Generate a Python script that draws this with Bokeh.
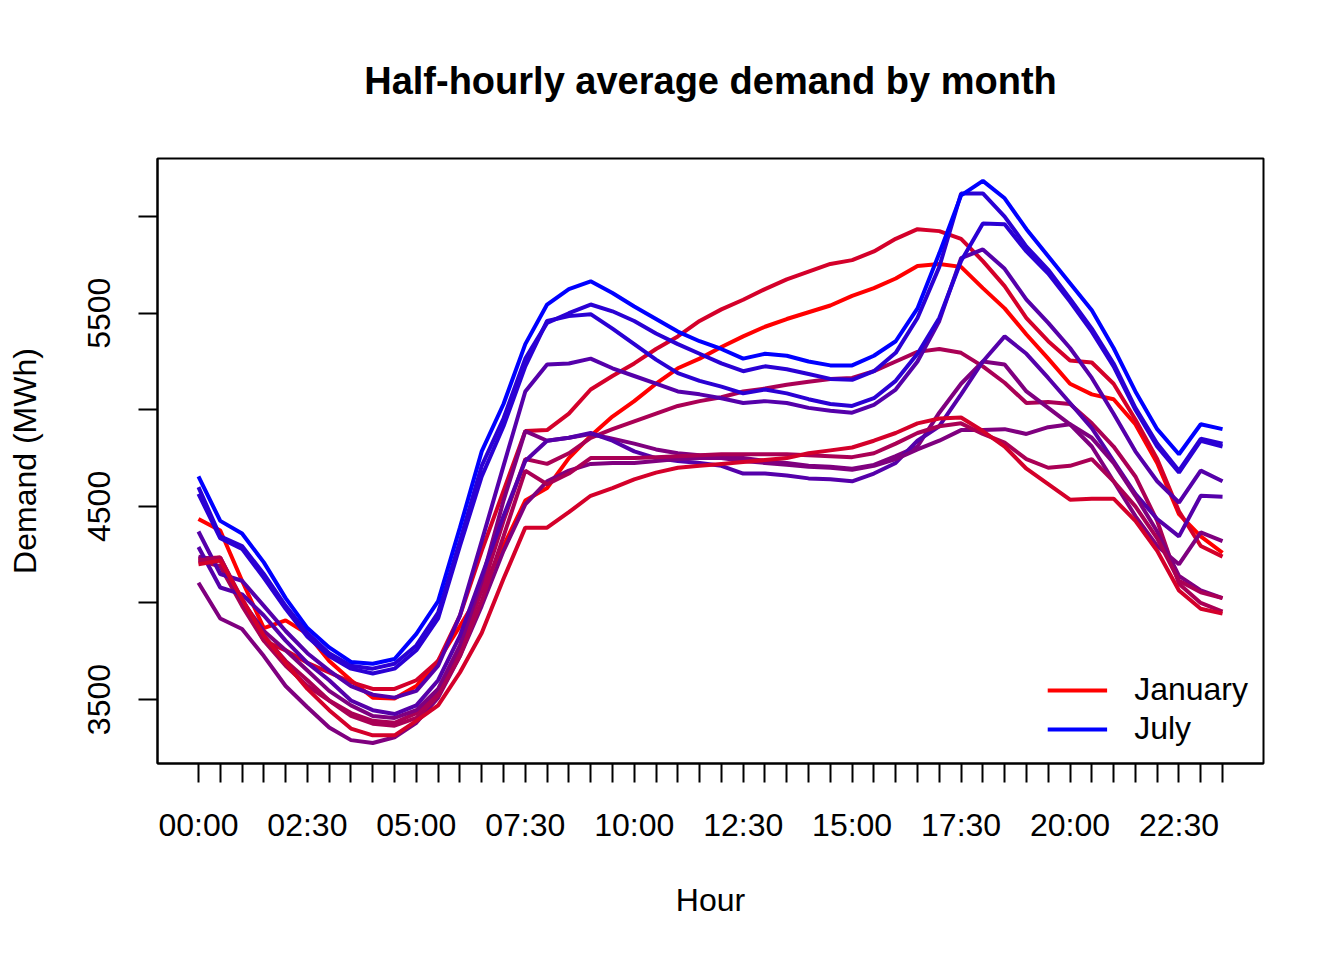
from bokeh.plotting import figure
from bokeh.models import Range1d, FixedTicker, Legend, LegendItem
from bokeh.embed import file_html
from bokeh.resources import INLINE

# Half-hour slots (48) and the labels that are shown
slots = list(range(48))
slot_names = ["%02d:%02d" % (h, m) for h in range(24) for m in (0, 30)]
shown_labels = ["00:00", "02:30", "05:00", "07:30", "10:00", "12:30",
                "15:00", "17:30", "20:00", "22:30"]
y_ticks = [3500, 4000, 4500, 5000, 5500, 6000]
y_labels = ["3500", "", "4500", "", "5500", ""]

months = ["January", "February", "March", "April", "May", "June",
          "July", "August", "September", "October", "November", "December"]

jan = [4435,4375,4115,3870,3910,3840,3700,3600,3510,3505,3570,3700,3880,4065,4295,4530,4595,4750,4865,4965,5045,5135,5215,5265,5325,5380,5430,5470,5505,5540,5590,5630,5680,5745,5755,5740,5630,5525,5390,5265,5135,5080,5055,4925,4725,4460,4345,4260]
feb = [4230,4235,4010,3805,3755,3690,3640,3590,3555,3555,3600,3700,3935,4270,4580,4890,4895,4980,5105,5175,5240,5315,5380,5460,5520,5570,5625,5675,5715,5755,5775,5820,5885,5935,5925,5885,5770,5640,5475,5355,5255,5245,5135,4950,4745,4475,4295,4240]
mar = [4220,4190,3985,3805,3675,3570,3495,3430,3390,3380,3430,3545,3755,4065,4425,4745,4720,4775,4855,4900,4940,4980,5020,5045,5065,5095,5110,5130,5145,5160,5165,5200,5250,5300,5315,5295,5225,5140,5035,5040,5030,4930,4810,4655,4425,4100,4000,3955]
apr = [4240,4220,4010,3855,3755,3650,3545,3470,3415,3405,3445,3555,3780,4115,4530,4890,4840,4855,4875,4850,4825,4795,4775,4765,4760,4750,4735,4725,4710,4705,4695,4715,4760,4810,4985,5135,5250,5235,5095,5010,4925,4810,4630,4450,4295,4200,4365,4320]
may = [4370,4150,4115,3985,3855,3740,3650,3570,3525,3510,3545,3675,3935,4320,4710,5095,5235,5240,5265,5215,5175,5135,5095,5080,5060,5035,5045,5035,5010,4995,4985,5025,5105,5250,5460,5785,5830,5730,5570,5450,5320,5165,4980,4785,4630,4520,4685,4630]
jun = [4600,4345,4295,4150,3985,3845,3740,3675,3660,3685,3780,3950,4320,4710,4955,5265,5450,5500,5545,5510,5460,5395,5340,5290,5240,5200,5225,5210,5185,5160,5155,5200,5295,5475,5740,6120,6120,6000,5845,5725,5575,5420,5240,5010,4825,4685,4850,4825]
jul = [4655,4425,4360,4210,4025,3870,3770,3695,3685,3710,3840,4010,4390,4785,5030,5340,5545,5625,5665,5605,5535,5470,5405,5355,5315,5265,5290,5280,5250,5230,5230,5280,5355,5525,5810,6110,6185,6095,5935,5795,5655,5515,5320,5095,4900,4770,4925,4900]
aug = [4565,4335,4280,4130,3970,3825,3725,3660,3635,3660,3755,3920,4295,4655,4915,5225,5460,5485,5495,5420,5340,5260,5190,5150,5120,5085,5105,5085,5055,5030,5020,5060,5150,5290,5475,5770,5965,5960,5820,5705,5560,5405,5225,5000,4810,4675,4840,4810]
sep = [4290,4080,4045,3935,3805,3690,3600,3495,3445,3425,3470,3600,3830,4140,4450,4735,4840,4855,4880,4840,4785,4750,4735,4725,4710,4670,4670,4660,4645,4640,4630,4670,4725,4840,4915,5080,5250,5380,5290,5165,5035,4905,4735,4565,4435,4345,4555,4550]
oct_ = [4105,3920,3865,3725,3570,3460,3355,3290,3275,3305,3380,3510,3725,3985,4270,4510,4630,4685,4720,4725,4725,4735,4745,4750,4750,4735,4725,4715,4705,4700,4690,4710,4745,4795,4840,4895,4895,4900,4875,4910,4925,4855,4725,4555,4370,4140,4065,4025]
nov = [4220,4235,4020,3830,3700,3600,3495,3415,3375,3365,3405,3520,3725,4010,4345,4685,4615,4670,4750,4750,4750,4755,4760,4765,4770,4770,4770,4770,4765,4760,4755,4775,4825,4880,4915,4930,4875,4830,4745,4700,4710,4745,4630,4500,4335,4115,4055,4025]
dec = [4200,4220,4020,3830,3690,3555,3445,3350,3315,3315,3390,3470,3640,3845,4125,4390,4390,4470,4555,4595,4640,4675,4700,4710,4720,4730,4740,4750,4775,4790,4805,4840,4880,4930,4955,4960,4890,4810,4695,4615,4535,4540,4540,4425,4270,4065,3970,3945]

series = [jan, feb, mar, apr, may, jun, jul, aug, sep, oct_, nov, dec]

# red -> blue ramp by distance from July
ramp = ["#FF0000", "#D4002A", "#AA0055", "#7F007F", "#5500AA", "#2A00D4", "#0000FF"]
month_colors = [ramp[6 - abs(m - 7)] for m in range(1, 13)]

FONT = "Liberation Sans"

p = figure(width=1328, height=944,
           x_range=Range1d(-1.88, 48.88), y_range=Range1d(3169, 6301),
           output_backend="svg", toolbar_location=None,
           min_border_left=157, min_border_right=65,
           min_border_top=157, min_border_bottom=181)

p.title.text = "Half-hourly average demand by month"
p.title.align = "center"
p.title.text_font = FONT
p.title.text_font_size = "38px"
p.title.text_font_style = "bold"
p.title.text_color = "black"
p.title.standoff = 114

p.grid.visible = False
p.outline_line_color = "black"
p.outline_line_width = 2
p.background_fill_color = "white"
p.border_fill_color = "white"

renderers = []
for vals, col in zip(series, month_colors):
    r = p.line(slots, vals, line_color=col, line_width=4)
    renderers.append(r)

# x axis
xa = p.xaxis[0]
xa.ticker = FixedTicker(ticks=slots)
xa.major_label_overrides = {i: (slot_names[i] if slot_names[i] in shown_labels else "") for i in slots}
xa.minor_tick_line_color = None
xa.major_tick_out = 19
xa.major_tick_in = 0
xa.major_tick_line_width = 2
xa.axis_line_width = 2
xa.major_label_text_font = FONT
xa.major_label_text_font_size = "32px"
xa.major_label_text_color = "black"
xa.major_label_standoff = 24
xa.axis_label = "Hour"
xa.axis_label_text_font = FONT
xa.axis_label_text_font_size = "32px"
xa.axis_label_text_font_style = "normal"
xa.axis_label_text_color = "black"
xa.axis_label_standoff = 36

# y axis
ya = p.yaxis[0]
ya.ticker = FixedTicker(ticks=y_ticks)
ya.major_label_overrides = {t: l for t, l in zip(y_ticks, y_labels)}
ya.minor_tick_line_color = None
ya.major_tick_out = 19
ya.major_tick_in = 0
ya.major_tick_line_width = 2
ya.axis_line_width = 2
ya.major_label_orientation = "vertical"
ya.major_label_text_font = FONT
ya.major_label_text_font_size = "32px"
ya.major_label_text_color = "black"
ya.major_label_standoff = 28
ya.axis_label = "Demand (MWh)"
ya.axis_label_text_font = FONT
ya.axis_label_text_font_size = "32px"
ya.axis_label_text_font_style = "normal"
ya.axis_label_text_color = "black"
ya.axis_label_standoff = 43

legend = Legend(items=[LegendItem(label="January", renderers=[renderers[0]]),
                       LegendItem(label="July", renderers=[renderers[6]])],
                location="bottom_right")
legend.label_text_font = FONT
legend.label_text_font_size = "32px"
legend.label_text_color = "black"
legend.glyph_width = 60
legend.glyph_height = 20
legend.label_standoff = 27
legend.label_height = 39
legend.spacing = 0
legend.margin = 15
legend.padding = 5
legend.border_line_color = None
legend.background_fill_alpha = 0
p.add_layout(legend)

open("out.html", "w").write(file_html(p, INLINE))
